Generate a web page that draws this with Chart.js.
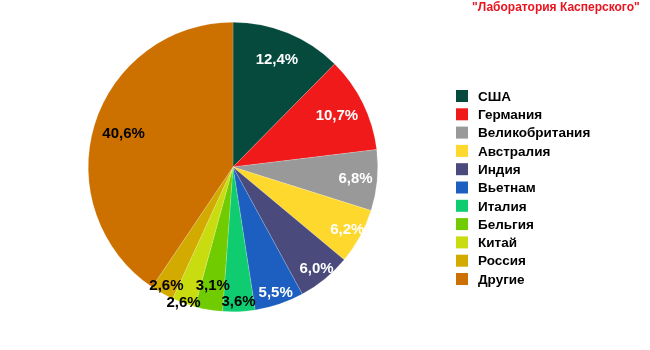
<!DOCTYPE html>
<html>
<head>
<meta charset="utf-8">
<script src="https://cdn.jsdelivr.net/npm/chart.js@4"></script>
<style>
  html, body { margin: 0; padding: 0; background: #fff; }
  #wrap { width: 650px; height: 350px; position: relative; }
</style>
</head>
<body>
<div id="wrap"><canvas id="pie" width="650" height="350"></canvas></div>
<script>
// Доли стран, %
const categories = ["США", "Германия", "Великобритания", "Австралия", "Индия", "Вьетнам",
  "Италия", "Бельгия", "Китай", "Россия", "Другие"];
const shares = [12.4, 10.7, 6.8, 6.2, 6.0, 5.5, 3.6, 3.1, 2.6, 2.6, 40.6];
const colors = ["#054a3d", "#f01a1a", "#999999", "#ffd82e", "#4a4a7c", "#1c5fc0",
  "#10cc70", "#70cc00", "#c8dc10", "#d2aa00", "#cc7000"];
const titleText = "\"Лаборатория Касперского\"";

// label placement (fraction of radius) and colour per slice
const labelRadius = [0.8, 0.8, 0.85, 0.9, 0.91, 0.92, 0.93, 0.83, 1.0, 0.94, 0.79];
const labelColor = ["#fff", "#fff", "#fff", "#fff", "#fff", "#fff", "#000", "#000", "#000", "#000", "#000"];
const FONT = "Arial, 'Liberation Sans', sans-serif";

const sliceLabels = {
  id: "sliceLabels",
  afterDatasetsDraw(chart) {
    const ctx = chart.ctx;
    const meta = chart.getDatasetMeta(0);
    ctx.save();
    ctx.font = "bold 15px " + FONT;
    ctx.textAlign = "center";
    ctx.textBaseline = "middle";
    meta.data.forEach((arc, i) => {
      const mid = (arc.startAngle + arc.endAngle) / 2;
      const r = arc.outerRadius * labelRadius[i];
      const x = arc.x + Math.cos(mid) * r;
      const y = arc.y + Math.sin(mid) * r;
      ctx.fillStyle = labelColor[i];
      ctx.fillText(shares[i].toFixed(1).replace(".", ",") + "%", x, y);
    });
    ctx.restore();
  }
};

const sideLegend = {
  id: "sideLegend",
  afterDraw(chart) {
    const ctx = chart.ctx;
    ctx.save();
    // title
    ctx.font = "bold 12px " + FONT;
    ctx.fillStyle = "#e8141e";
    ctx.textAlign = "left";
    ctx.textBaseline = "middle";
    ctx.fillText(titleText, 472, 8);
    // legend
    ctx.font = "bold 13.5px " + FONT;
    categories.forEach((c, i) => {
      const y = 96 + i * 18.3;
      ctx.fillStyle = colors[i];
      ctx.fillRect(456, y - 6, 12, 12);
      ctx.fillStyle = "#000";
      ctx.fillText(c, 478, y + 1);
    });
    ctx.restore();
  }
};

new Chart(document.getElementById("pie"), {
  type: "pie",
  data: {
    labels: categories,
    datasets: [{
      data: shares,
      backgroundColor: colors,
      borderColor: "rgba(255,255,255,0.35)",
      borderWidth: 0.5
    }]
  },
  options: {
    responsive: false,
    animation: false,
    layout: { padding: { left: 88, right: 272, top: 22, bottom: 38 } },
    plugins: {
      legend: { display: false },
      tooltip: { enabled: false }
    }
  },
  plugins: [sliceLabels, sideLegend]
});
</script>
</body>
</html>
